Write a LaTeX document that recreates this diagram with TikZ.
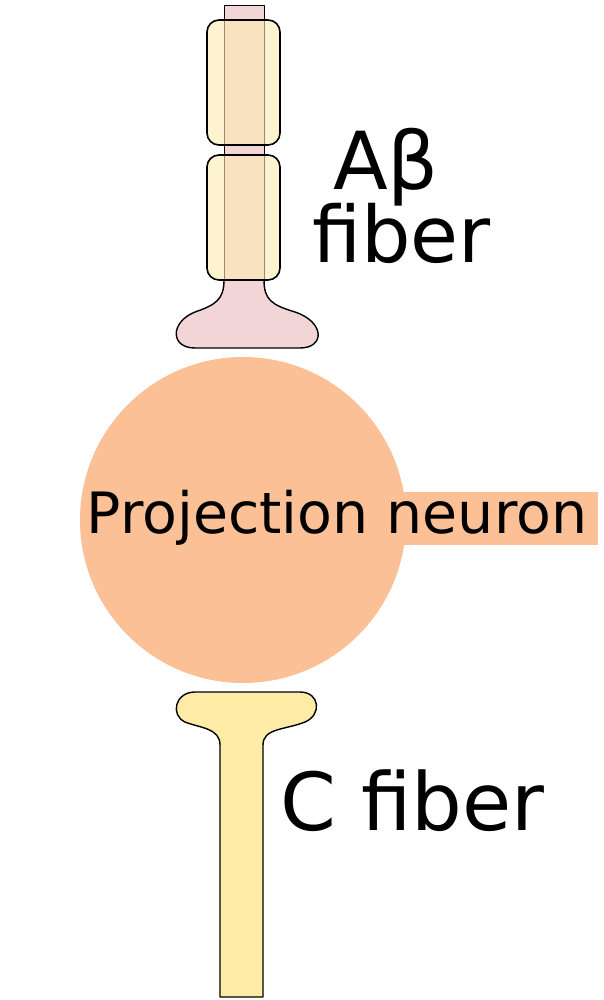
\documentclass[tikz,border=0pt]{standalone}
\usepackage{fontspec}
\setmainfont{DejaVu Sans}
\usetikzlibrary{positioning}
\definecolor{pinkterm}{HTML}{F2D5D6}
\definecolor{myelin}{HTML}{FCEBB0}
\definecolor{soma}{HTML}{FBC096}
\definecolor{cterm}{HTML}{FDEBA6}
\tikzset{
  myel/.style={draw=black, line width=1.6pt, fill=myelin, fill opacity=0.6, rounded corners=12pt},
  term/.style={draw=black, line width=1.4pt, line join=round},
  lbl/.style={inner sep=0pt, anchor=base west}
}
\begin{document}
\begin{tikzpicture}[x=1pt,y=-1pt]
  \useasboundingbox (0,0) rectangle (603,1000);
  % A-beta fiber
  \draw[term, fill=pinkterm, line width=0.8pt] (224,5) rectangle (264,282);
  \draw[term, fill=pinkterm] (224,280) .. controls (224,300) and (215,305) .. (195,312)
     .. controls (170,322) and (170,348) .. (195,348) -- (300,348)
     .. controls (325,348) and (325,322) .. (295,312)
     .. controls (272,305) and (264,300) .. (264,280);
  \draw[myel] (207,20) rectangle (280,145);
  \draw[myel] (207,155) rectangle (280,280);
  % projection neuron
  \fill[soma] (400,492) rectangle (598,545);
  \fill[soma] (243,520) circle (163);
  \node[font=\fontsize{57}{60}\selectfont] (neuron) at (337,518) {Projection neuron};
  % C fiber
  \draw[term, fill=cterm] (220,997) -- (220,745)
     .. controls (220,728) and (200,728) .. (185,722)
     .. controls (170,715) and (175,692) .. (195,692) -- (300,692)
     .. controls (320,692) and (322,715) .. (305,722)
     .. controls (285,730) and (263,728) .. (263,745) -- (263,997) -- cycle;
  % labels
  \node[lbl, font=\fontsize{80}{80}\selectfont] (ab) at (333,190) {Aβ};
  \node[lbl, font=\fontsize{78}{80}\selectfont] (abfib) at (312,262) {fiber};
  \node[lbl, font=\fontsize{80}{80}\selectfont] (cfib) at (280,830) {C fiber};
\end{tikzpicture}
\end{document}
